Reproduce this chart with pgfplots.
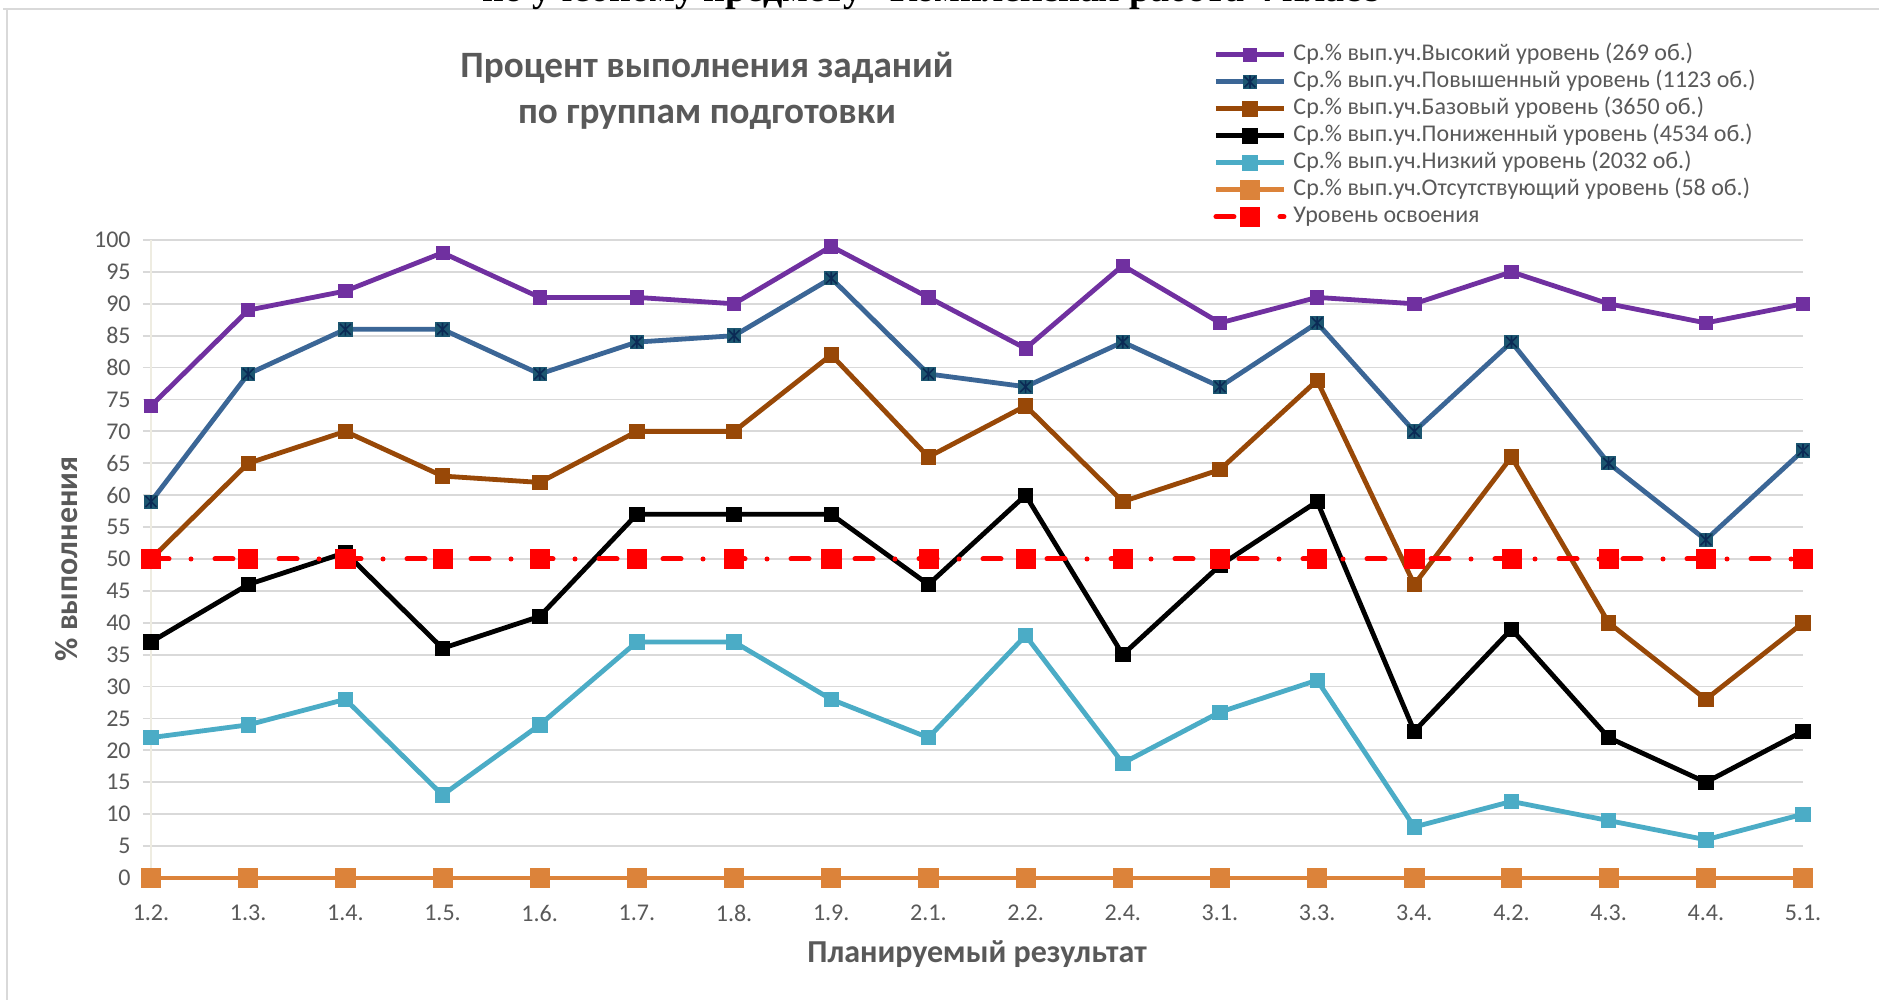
\documentclass[border=0pt]{standalone}
\usepackage{fontspec}
\setmainfont{Carlito}
\newfontfamily\timesb{Liberation Serif}
\usepackage{pgfplots}
\pgfplotsset{compat=1.18}
\definecolor{cpurple}{HTML}{7030A0}
\definecolor{cblue}{HTML}{3B6696}
\definecolor{cbmark}{HTML}{1C5670}
\definecolor{cbast}{HTML}{0B2A55}
\definecolor{cbrown}{HTML}{984807}
\definecolor{clblue}{HTML}{4BACC6}
\definecolor{corange}{HTML}{DC833A}
\definecolor{cred}{HTML}{FF0000}
\definecolor{cgrid}{HTML}{D9D9D9}
\definecolor{caxis}{HTML}{EEECE1}
\definecolor{ctext}{HTML}{595959}
\pgfdeclareplotmark{sqast}{%
  \pgfpathrectangle{\pgfqpoint{-\pgfplotmarksize}{-\pgfplotmarksize}}{\pgfqpoint{2\pgfplotmarksize}{2\pgfplotmarksize}}%
  \pgfsetfillcolor{cbmark}\pgfsetstrokecolor{cbmark}\pgfusepathqfillstroke
  \pgfsetstrokecolor{cbast}\pgfsetlinewidth{0.8pt}%
  \pgfpathmoveto{\pgfqpoint{-0.85\pgfplotmarksize}{-0.85\pgfplotmarksize}}\pgfpathlineto{\pgfqpoint{0.85\pgfplotmarksize}{0.85\pgfplotmarksize}}%
  \pgfpathmoveto{\pgfqpoint{-0.85\pgfplotmarksize}{0.85\pgfplotmarksize}}\pgfpathlineto{\pgfqpoint{0.85\pgfplotmarksize}{-0.85\pgfplotmarksize}}%
  \pgfpathmoveto{\pgfqpoint{0pt}{-\pgfplotmarksize}}\pgfpathlineto{\pgfqpoint{0pt}{\pgfplotmarksize}}%
  \pgfusepathqstroke
}
\pgfplotstableread{
x hi po ba pn ni ot lv
0  74 59 50 37 22 0 50
1  89 79 65 46 24 0 50
2  92 86 70 51 28 0 50
3  98 86 63 36 13 0 50
4  91 79 62 41 24 0 50
5  91 84 70 57 37 0 50
6  90 85 70 57 37 0 50
7  99 94 82 57 28 0 50
8  91 79 66 46 22 0 50
9  83 77 74 60 38 0 50
10 96 84 59 35 18 0 50
11 87 77 64 49 26 0 50
12 91 87 78 59 31 0 50
13 90 70 46 23 8  0 50
14 95 84 66 39 12 0 50
15 90 65 40 22 9  0 50
16 87 53 28 15 6  0 50
17 90 67 40 23 10 0 50
}\datatable
\begin{document}
\begin{tikzpicture}
\useasboundingbox (0,0) rectangle (939.5pt,500pt);
\fill[white] (0,0) rectangle (939.5pt,500pt);
\draw[cgrid, line width=0.8pt] (1.5pt,495.5pt) -- (939.5pt,495.5pt);
\draw[cgrid, line width=0.8pt] (3.5pt,495.5pt) -- (3.5pt,0pt);
\node[overlay, anchor=base, font=\timesb\bfseries\fontsize{19}{22}\selectfont] at (470pt,499pt) {по учебному предмету «Комплексная работа 4 класс»};
\begin{axis}[
  at={(75.5pt,61pt)}, anchor=south west,
  scale only axis, width=826pt, height=319pt,
  xmin=0, xmax=17, ymin=0, ymax=100,
  xtick={0,...,17},
  xticklabels={1.2.,1.3.,1.4.,1.5.,1.6.,1.7.,1.8.,1.9.,2.1.,2.2.,2.4.,3.1.,3.3.,3.4.,4.2.,4.3.,4.4.,5.1.},
  ytick={0,5,...,100},
  axis x line*=bottom, axis y line*=left,
  x axis line style={draw=none},
  y axis line style={caxis, line width=0.9pt},
  ymajorgrids, grid style={cgrid, line width=0.9pt},
  tick align=outside,
  xtick style={draw=none}, major tick length=4pt,
  ytick style={cgrid, line width=0.9pt},
  /pgf/number format/assume math mode=true,
  tick label style={font=\fontsize{12}{14}\selectfont, text=ctext},
  xticklabel style={anchor=north, inner sep=0pt, yshift=-9.5pt},
  yticklabel style={anchor=east, inner sep=0pt, xshift=-6pt},
  xlabel={Планируемый результат},
  ylabel={\% выполнения},
  label style={font=\bfseries\fontsize{16}{19}\selectfont, text=ctext},
  xlabel style={at={(axis description cs:0.5,-0.1191)}, anchor=center},
  ylabel style={at={(axis description cs:-0.0508,0.5)}, anchor=center},
  legend cell align=left,
  legend image code/.code={\draw[mark repeat=2,mark phase=2] plot coordinates {(0pt,0pt)(17pt,0pt)(34pt,0pt)};},
  legend style={at={(0.6429,1.3096)}, anchor=north west, draw=none, fill=none, inner sep=0pt,
    row sep=1.5pt, font=\fontsize{12}{14}\selectfont, text=ctext,
    nodes={inner xsep=3.5pt, inner ysep=0pt, text height=9pt, text depth=3pt}},
  clip=false,
]
\addplot[cpurple, line width=2.4pt, mark=square*, mark size=3.3pt, mark options={solid, line width=0.4pt}] table[x=x,y=hi] {\datatable};
\addlegendentry{Ср.\% вып.уч.Высокий уровень (269 об.)}
\addplot[cblue, line width=2.4pt, mark=sqast, mark size=3.2pt, mark options={solid, line width=0.4pt}] table[x=x,y=po] {\datatable};
\addlegendentry{Ср.\% вып.уч.Повышенный уровень (1123 об.)}
\addplot[cbrown, line width=2.4pt, mark=square*, mark size=3.6pt, mark options={solid, line width=0.4pt}] table[x=x,y=ba] {\datatable};
\addlegendentry{Ср.\% вып.уч.Базовый уровень (3650 об.)}
\addplot[black, line width=2.4pt, mark=square*, mark size=3.6pt, mark options={solid, line width=0.4pt}] table[x=x,y=pn] {\datatable};
\addlegendentry{Ср.\% вып.уч.Пониженный уровень (4534 об.)}
\addplot[clblue, line width=2.4pt, mark=square*, mark size=3.6pt, mark options={solid, line width=0.4pt}] table[x=x,y=ni] {\datatable};
\addlegendentry{Ср.\% вып.уч.Низкий уровень (2032 об.)}
\addplot[corange, line width=2.4pt, mark=square*, mark size=4.8pt, mark options={solid, line width=0.4pt}] table[x=x,y=ot] {\datatable};
\addlegendentry{Ср.\% вып.уч.Отсутствующий уровень (58 об.)}
\addplot[cred, line width=2.5pt, line cap=round, dash pattern=on 9pt off 11pt on 0pt off 12pt, mark=square*, mark size=4.8pt, mark options={solid, line width=0.3pt}] table[x=x,y=lv] {\datatable};
\addlegendentry{Уровень освоения}
\end{axis}
\node[align=center, font=\bfseries\fontsize{18.6}{23}\selectfont, text=ctext] at (353.5pt,454.5pt) {Процент выполнения заданий\\по группам подготовки};
\end{tikzpicture}
\end{document}
